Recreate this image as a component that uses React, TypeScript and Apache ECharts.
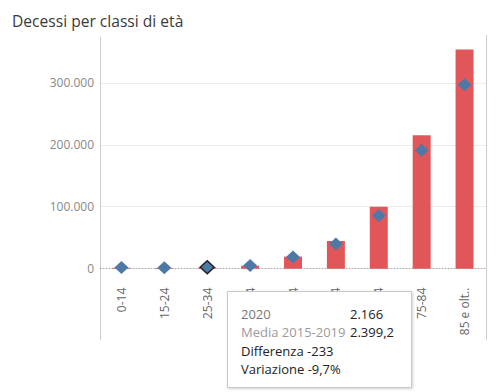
import React, { useEffect, useRef } from "react";
import * as echarts from "echarts";

const categories = ["0-14", "15-24", "25-34", "35-44", "45-54", "55-64", "65-74", "75-84", "85 e olt.."];
const deaths2020 = [1500, 1200, 2166, 4900, 19500, 44700, 100000, 215600, 354000];
const media20152019 = [1800, 1500, 2399.2, 5300, 19000, 40000, 86000, 191000, 297000];
const yTicks = [0, 100000, 200000, 300000];
const highlightIndex = 2;
const tooltipLines = [
  { label: "2020", value: "2.166" },
  { label: "Media 2015-2019", value: "2.399,2" },
  { label: "Differenza -233", value: "" },
  { label: "Variazione -9,7%", value: "" },
];

const FONT = "'Open Sans', 'Noto Sans', sans-serif";
const W = 497;
const H = 392;
const GL = 100;
const GR = 486;
const GT = 37;
const ZERO_Y = 268.7;
const PANE_BOTTOM = 340;

function fmtIt(v: number): string {
  return String(Math.round(v)).replace(/\B(?=(\d{3})+(?!\d))/g, ".");
}

export default function App() {
  const ref = useRef<HTMLDivElement>(null);
  useEffect(() => {
    document.body.style.margin = "0";
    if (!ref.current) return;
    const chart = echarts.init(ref.current, null, { renderer: "svg" });
    const yMax = 374000;
    const splitColors = [
      ...yTicks.map((t) => (t === 0 ? "rgba(0,0,0,0)" : "#ececec")),
      "rgba(0,0,0,0)",
    ];
    const tx = 241;
    const vx = 350;
    const ty0 = 313.5;
    const dy = 18.5;
    chart.setOption({
      animation: false,
      title: {
        text: "Decessi per classi di età",
        left: 7,
        top: 8,
        textStyle: { fontFamily: FONT, fontSize: 15.6, fontWeight: "normal", color: "#3a3a3a" },
      },
      grid: { left: GL, right: W - GR, top: GT, bottom: H - ZERO_Y },
      xAxis: {
        type: "category",
        data: categories,
        axisLine: { show: true, lineStyle: { color: "#aaa", type: [1, 2], width: 1 } },
        axisTick: { show: false },
        axisLabel: {
          rotate: 90,
          margin: 19,
          interval: 0,
          color: "#666",
          fontFamily: FONT,
          fontSize: 12,
        },
        splitLine: { show: false },
      },
      yAxis: {
        type: "value",
        min: 0,
        max: yMax,
        interval: 100000,
        axisLine: { show: true, lineStyle: { color: "#ccc" } },
        axisTick: { show: false },
        axisLabel: {
          margin: 6,
          color: "#888",
          fontFamily: FONT,
          fontSize: 12,
          formatter: (v: number) => (yTicks.includes(v) ? fmtIt(v) : ""),
        },
        splitLine: { show: true, lineStyle: { color: splitColors, width: 1 } },
      },
      series: [
        {
          type: "bar",
          data: deaths2020,
          barWidth: 18,
          itemStyle: { color: "#e15759" },
          z: 2,
        },
        {
          type: "scatter",
          data: media20152019.map((v, i) =>
            i === highlightIndex
              ? { value: v, itemStyle: { borderColor: "#222", borderWidth: 1.5 } }
              : v
          ),
          symbol: "diamond",
          symbolSize: [14, 13],
          itemStyle: { color: "#4e79a7", opacity: 1 },
          z: 3,
        },
      ],
      graphic: [
        {
          type: "line",
          shape: { x1: GL + 0.5, y1: ZERO_Y, x2: GL + 0.5, y2: PANE_BOTTOM },
          style: { stroke: "#ccc", lineWidth: 1 },
        },
        {
          type: "line",
          shape: { x1: GR + 0.5, y1: 35, x2: GR + 0.5, y2: PANE_BOTTOM },
          style: { stroke: "#ccc", lineWidth: 1 },
        },
        {
          type: "rect",
          shape: { x: 227.5, y: 291.5, width: 184, height: 96 },
          style: {
            fill: "#fff",
            stroke: "#c8c8c8",
            lineWidth: 1,
            shadowBlur: 3,
            shadowColor: "rgba(0,0,0,0.18)",
            shadowOffsetX: 1,
            shadowOffsetY: 1,
          },
          z: 100,
        },
        ...tooltipLines.flatMap((l, i) => {
          const color = i === 0 ? "#777" : i === 1 ? "#9a9a9a" : "#222";
          const items: any[] = [
            {
              type: "text",
              x: tx,
              y: ty0 + i * dy,
              style: {
                text: l.label,
                fill: color,
                font: `13px ${FONT}`,
                verticalAlign: "middle",
              },
              z: 101,
            },
          ];
          if (l.value) {
            items.push({
              type: "text",
              x: vx,
              y: ty0 + i * dy,
              style: {
                text: l.value,
                fill: "#222",
                font: `13px ${FONT}`,
                verticalAlign: "middle",
              },
              z: 101,
            });
          }
          return items;
        }),
      ],
    });
    return () => chart.dispose();
  }, []);
  return (
    <div
      ref={ref}
      style={{ position: "absolute", left: 0, top: 0, width: W, height: H, background: "#fff" }}
    />
  );
}
